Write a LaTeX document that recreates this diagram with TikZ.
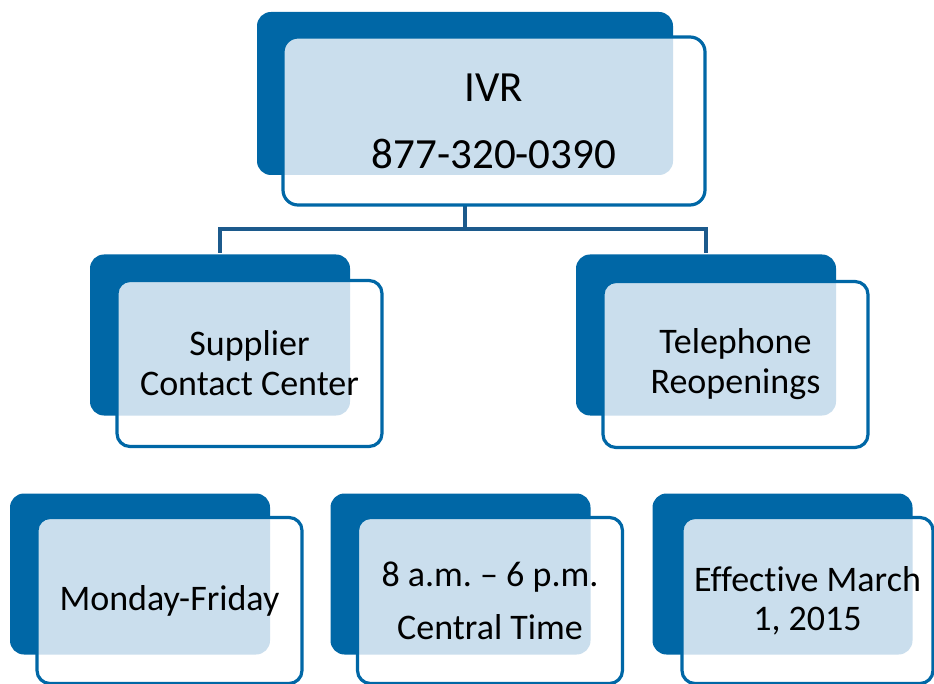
\documentclass[tikz,border=0pt]{standalone}
\usepackage{fontspec}
\setmainfont[Ligatures=NoCommon]{Carlito}
\frenchspacing
\definecolor{cardblue}{RGB}{0,103,166}
\definecolor{linkblue}{RGB}{28,90,140}
\definecolor{dotfill}{RGB}{202,222,237}
\begin{document}
\begin{tikzpicture}[x=1pt, y=-1pt,
  back/.style={fill=cardblue, rounded corners=14pt, inner sep=0pt, outer sep=0pt,
               minimum width=260pt, minimum height=161pt},
  front/.style={draw=cardblue, line width=3.2pt, fill=white, rounded corners=13pt,
                inner sep=0pt, outer sep=0pt, align=center, text=black,
                minimum width=265pt, minimum height=166pt,
                font=\fontsize{36}{40}\selectfont,
                path picture={\fill[dotfill, rounded corners=14pt]
                  (#1B.south west) rectangle (#1B.north east);}},
  link/.style={draw=linkblue, line width=3.2pt},
]
  \useasboundingbox (0,0) rectangle (934,684);

  % connectors (under the cards)
  \coordinate (top) at (465,175);
  \coordinate (split) at (465,229);
  \coordinate (sccTop) at (220,253);
  \coordinate (telTop) at (706,253);
  \draw[link] (top) -- (split);
  \draw[link] (sccTop) |- (split) -| (telTop);

  % back cards
  \node[back, minimum width=416pt, minimum height=163pt] (ivrB) at (465,93.5) {};
  \node[back] (sccB) at (220,335) {};
  \node[back] (telB) at (706,335) {};
  \node[back] (monB) at (140,574) {};
  \node[back] (hrsB) at (460.5,574) {};
  \node[back] (effB) at (782.5,574) {};

  % front cards
  \node[front=ivr, minimum width=422pt, minimum height=168pt, rounded corners=15pt,
        font=\fontsize{43}{52}\selectfont] (ivr) at (494,121)
        {IVR\\[15pt]877-320-0390};
  \node[front=scc] (scc) at (249.5,363.5) {Supplier\\Contact Center};
  \node[front=tel] (tel) at (735.5,364.5) {Telephone\\Reopenings};
  \node[front=mon] (mon) at (169.5,600.5) {Monday-Friday};
  \node[front=hrs] (hrs) at (490,600.5) {8 a.m. – 6 p.m.\\[13pt]Central Time};
  \node[front=eff, minimum width=251pt, font=\fontsize{36}{39}\selectfont] (eff)
        at (807.5,600.5) {Effective March\\1, 2015};
\end{tikzpicture}
\end{document}
